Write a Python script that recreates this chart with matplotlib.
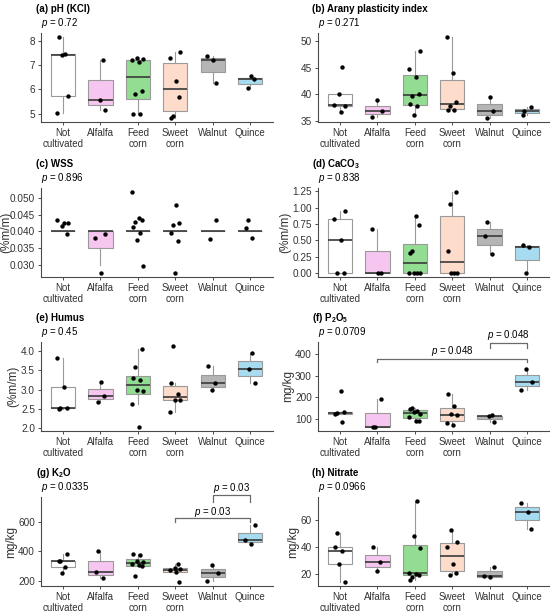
import numpy as np
import matplotlib.pyplot as plt
from matplotlib.ticker import FormatStrFormatter

plt.rcParams['font.family'] = ['Liberation Sans', 'DejaVu Sans']
plt.rcParams['mathtext.fontset'] = 'custom'
plt.rcParams['mathtext.rm'] = 'Liberation Sans'
plt.rcParams['mathtext.it'] = 'Liberation Sans:italic'
plt.rcParams['mathtext.bf'] = 'Liberation Sans:bold'

# ---- data ----
categories = ["Not\ncultivated", "Alfalfa", "Feed\ncorn", "Sweet\ncorn", "Walnut", "Quince"]
box_colors = ["#ffffff", "#f7c6f0", "#93dd93", "#fddccb", "#b5b5b5", "#a7dcf0"]

ph_kcl = [
    [8.15, 7.47, 7.40, 5.75, 5.03],
    [7.22, 5.58, 5.17],
    [7.27, 7.25, 7.22, 7.12, 5.94, 5.83, 5.00, 4.98],
    [7.55, 7.31, 6.33, 5.69, 4.93, 4.83],
    [7.37, 7.20, 6.27],
    [6.54, 6.42, 6.06],
]
arany = [
    [45.1, 40.0, 37.85, 38.05, 36.7],
    [38.9, 36.84, 35.75],
    [48.0, 44.75, 43.3, 40.1, 39.6, 38.1, 37.8, 36.1],
    [50.7, 44.0, 38.6, 37.85, 37.0, 37.0],
    [39.4, 36.84, 35.56],
    [37.6, 36.8, 36.05],
]
# WSS values are rounded; the dots in the original are jittered vertically
wss = [
    [0.04, 0.04, 0.04, 0.04, 0.04],
    [0.04, 0.04, 0.03],
    [0.05, 0.04, 0.04, 0.04, 0.04, 0.04, 0.04, 0.03],
    [0.05, 0.04, 0.04, 0.04, 0.04, 0.03],
    [0.04, 0.04],
    [0.04, 0.04, 0.04],
]
wss_points = [
    [0.0417, 0.0425, 0.0433, 0.0425, 0.0393],
    [0.0393, 0.0380, 0.0276],
    [0.0518, 0.0440, 0.0433, 0.0428, 0.0412, 0.0396, 0.0375, 0.0298],
    [0.0478, 0.0425, 0.0420, 0.0395, 0.0371, 0.0276],
    [0.0435, 0.0377],
    [0.0435, 0.0410, 0.0380],
]
caco3 = [
    [0.95, 0.83, 0.50, 0.0, 0.0],
    [0.67, 0.0, 0.0],
    [0.88, 0.74, 0.34, 0.30, 0.0, 0.0, 0.0, 0.0],
    [1.24, 1.05, 0.33, 0.0, 0.0, 0.0],
    [0.78, 0.56, 0.29],
    [0.43, 0.40, 0.0],
]
humus = [
    [3.82, 3.07, 2.53, 2.515, 2.49],
    [3.20, 2.83, 2.67],
    [4.06, 3.59, 3.29, 3.26, 2.99, 2.96, 2.63, 2.03],
    [4.13, 3.18, 2.88, 2.73, 2.72, 2.43],
    [3.61, 3.16, 3.00],
    [3.96, 3.53, 3.16],
]
p2o5 = [
    [229, 131, 127, 123, 86],
    [191, 64, 64],
    [150, 145, 138, 132, 122, 110, 92, 89],
    [214, 158, 122, 117, 79, 71],
    [117, 112, 86],
    [332, 271, 233],
]
k2o = [
    [380, 337, 333, 294, 252],
    [402, 261, 222],
    [384, 373, 335, 326, 312, 305, 300, 234],
    [316, 286, 280, 272, 260, 195],
    [306, 256, 200],
    [575, 476, 452],
]
nitrate = [
    [50.6, 39.75, 37.0, 27.4, 14.1],
    [39.75, 28.6, 22.2],
    [74.3, 48.1, 39.5, 21.0, 20.0, 19.5, 18.0, 15.6],
    [52.6, 44.0, 40.2, 27.2, 20.5, 19.3],
    [25.4, 18.5, 17.5],
    [72.8, 66.2, 53.8],
]

titles = [r"(a) pH (KCl)", r"(b) Arany plasticity index", r"(c) WSS", r"(d) CaCO$_\mathbf{3}$",
          r"(e) Humus", r"(f) P$_\mathbf{2}$O$_\mathbf{5}$", r"(g) K$_\mathbf{2}$O", r"(h) Nitrate"]
p_values = ["0.72", "0.271", "0.896", "0.838", "0.45", "0.0709", "0.0335", "0.0966"]
y_labels = [None, None, "(%m/m)", "(%m/m)", "(%m/m)", "mg/kg", "mg/kg", "mg/kg"]
y_ticks = [
    [5, 6, 7, 8],
    [35, 40, 45, 50],
    [0.030, 0.035, 0.040, 0.045, 0.050],
    [0.00, 0.25, 0.50, 0.75, 1.00, 1.25],
    [2.0, 2.5, 3.0, 3.5, 4.0],
    [100, 200, 300, 400],
    [200, 400, 600],
    [20, 40, 60],
]
tick_formats = ['%d', '%d', '%.3f', '%.2f', '%.1f', '%d', '%d', '%d']

# pairwise comparisons: (group a, group b, p)
p2o5_pairs = [(2, 6, "0.048"), (5, 6, "0.048")]
k2o_pairs = [(4, 6, "0.03"), (5, 6, "0.03")]

# ---- drawing ----
JITTER = [-0.12, 0.06, -0.02, 0.13, -0.15, 0.02, 0.10, -0.07]
EDGE = "#9a9a9a"
AXIS = "#4a4a4a"


def BoxPanel(ax, data, points, color_list, jit_shift=0):
    pos = np.arange(1, len(data) + 1)
    bp = ax.boxplot(data, positions=pos, widths=0.65, patch_artist=True,
                    showfliers=False, showcaps=False, whis=1.5,
                    boxprops=dict(edgecolor=EDGE, linewidth=0.8),
                    whiskerprops=dict(color=EDGE, linewidth=0.8),
                    medianprops=dict(color="#3a3a3a", linewidth=1.2))
    for patch, c in zip(bp['boxes'], color_list):
        patch.set_facecolor(c)
    for g, vals in enumerate(points):
        xs = [pos[g] + JITTER[(i + g + jit_shift) % len(JITTER)] for i in range(len(vals))]
        ax.scatter(xs, vals, s=10, color="black", zorder=3, linewidths=0)


def Bracket(ax, a, b, label, y, drop, label_y):
    ax.plot([a, a, b, b], [drop, y, y, drop], color="#6a6a6a", lw=0.9, clip_on=False)
    ax.text((a + b) / 2, label_y, r"$p$ = " + label, ha="center", va="center",
            fontsize=7, clip_on=False)


fig = plt.figure(figsize=(5.5, 6.13), dpi=100)
W, H = 550.0, 613.0
lefts = [40.6, 317.5]
tops = [33, 188, 342, 497]
ax_w, ax_h = 232, 89

panels = [ph_kcl, arany, wss, caco3, humus, p2o5, k2o, nitrate]
axes = []
for k, data in enumerate(panels):
    row, col = k // 2, k % 2
    ax = fig.add_axes([lefts[col] / W, 1 - (tops[row] + ax_h) / H, ax_w / W, ax_h / H])
    pts = wss_points if data is wss else data
    BoxPanel(ax, data, pts, box_colors, jit_shift=k)

    ax.set_xlim(0.4, 6.6)
    ax.set_xticks(np.arange(1, 7))
    ax.set_xticklabels(categories, fontsize=7, color="#333333")
    ax.set_yticks(y_ticks[k])
    ax.yaxis.set_major_formatter(FormatStrFormatter(tick_formats[k]))
    ax.tick_params(axis='y', labelsize=7.2, labelcolor="#333333")
    ax.tick_params(length=2.5, width=0.7, color=AXIS, pad=1.5)
    for s in ['top', 'right']:
        ax.spines[s].set_visible(False)
    for s in ['left', 'bottom']:
        ax.spines[s].set_color(AXIS)
        ax.spines[s].set_linewidth(0.8)
    if y_labels[k]:
        ax.set_ylabel(y_labels[k], fontsize=8.5, labelpad=1, color="#333333")

    x0 = lefts[col] / W
    ytop = 1 - tops[row] / H
    fig.text(x0 - 5 / W, ytop + 24 / H, titles[k], fontsize=7, fontweight="bold",
             va="center", ha="left")
    fig.text(x0, ytop + 10 / H, r"$p$ = " + p_values[k], fontsize=7, va="center", ha="left")
    axes.append(ax)

# WSS has the widest tick labels; keep its axis title inside the figure
axes[2].yaxis.set_label_coords(-0.122, 0.5)

# comparison brackets
axes[5].set_ylim(44, 455)
Bracket(axes[5], p2o5_pairs[0][0], p2o5_pairs[0][1], p2o5_pairs[0][2], 377, 362, 415)
Bracket(axes[5], p2o5_pairs[1][0], p2o5_pairs[1][1], p2o5_pairs[1][2], 450, 427, 488)
axes[6].set_ylim(166, 765)
Bracket(axes[6], k2o_pairs[0][0], k2o_pairs[0][1], k2o_pairs[0][2], 622, 600, 662)
Bracket(axes[6], k2o_pairs[1][0], k2o_pairs[1][1], k2o_pairs[1][2], 780, 728, 828)

fig.savefig("out.png", dpi=100, facecolor="white")
